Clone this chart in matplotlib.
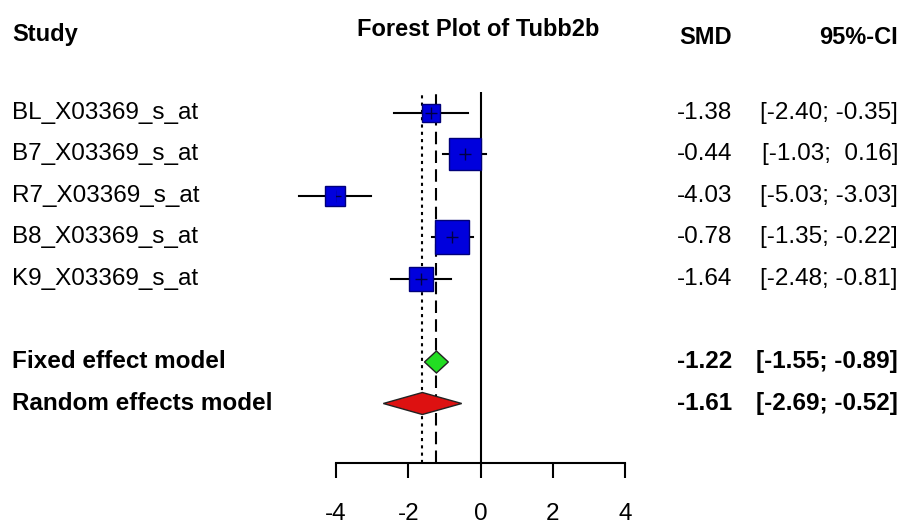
import numpy as np
import matplotlib.pyplot as plt
import matplotlib.transforms as mtransforms

plt.rcParams['font.family'] = ['Liberation Sans', 'DejaVu Sans']

# study data
studies = ["BL_X03369_s_at", "B7_X03369_s_at", "R7_X03369_s_at",
           "B8_X03369_s_at", "K9_X03369_s_at"]
smd = [-1.38, -0.44, -4.03, -0.78, -1.64]
ci_lo = [-2.40, -1.03, -5.03, -1.35, -2.48]
ci_hi = [-0.35, 0.16, -3.03, -0.22, -0.81]

# pooled estimates
models = ["Fixed effect model", "Random effects model"]
pooled = [-1.22, -1.61]
pooled_lo = [-1.55, -2.69]
pooled_hi = [-0.89, -0.52]
pooled_colors = ["#22dd22", "#dd1111"]

xticks = [-4, -2, 0, 2, 4]
title = "Forest Plot of Tubb2b"

W, H = 909, 525
FS = 17.5
fig = plt.figure(figsize=(W / 100, H / 100), dpi=100)

# forest plot panel
ax = fig.add_axes([336 / W, 1 - 463 / H, 289 / W, (463 - 92) / H])
ax.set_xlim(-4, 4)
ax.set_ylim(1 + 350 / 41.5, 1 - 21 / 41.5)
for s in ["top", "left", "right"]:
    ax.spines[s].set_visible(False)
ax.spines["bottom"].set_linewidth(1.5)
ax.set_yticks([])
ax.set_xticks(xticks)
ax.set_xticklabels([str(t) for t in xticks], fontsize=FS)
ax.tick_params(axis="x", length=10.8, width=1.5, pad=18)
ax.patch.set_alpha(0)

rows = np.arange(1, len(studies) + 1)
model_rows = [len(studies) + 2, len(studies) + 3]

# reference lines
ax.axvline(0, color="black", lw=1.5)
ax.axvline(pooled[0], color="black", lw=1.5, ls=(0, (6, 3)))
ax.axvline(pooled[1], color="black", lw=1.5, ls=(0, (1.5, 2)))

# weights from CI widths -> square size
se = (np.array(ci_hi) - np.array(ci_lo)) / 3.92
w = 1 / se ** 2
side_px = 34 * np.sqrt(w / w.max())

for r, m, lo, hi, sp in zip(rows, smd, ci_lo, ci_hi, side_px):
    ax.plot([lo, hi], [r, r], color="black", lw=1.5, clip_on=False, zorder=2)
    ax.plot(m, r, marker="s", ms=sp * 0.72, color="#0000dd",
            mec="#00007a", mew=1, clip_on=False, zorder=3)
    ax.plot(m, r, marker="+", ms=8, color="#000044", mew=1, zorder=4)

h = 0.265
for r, m, lo, hi, c in zip(model_rows, pooled, pooled_lo, pooled_hi, pooled_colors):
    ax.fill([lo, m, hi, m], [r, r - h, r, r + h], facecolor=c,
            edgecolor="#222222", lw=1, zorder=3, clip_on=False)

# text columns: x in figure fraction, y in row units
tr = mtransforms.blended_transform_factory(fig.transFigure, ax.transData)
x_study = 12 / W
x_smd = 732 / W
x_ci = 898 / W


def fmt_ci(lo, hi):
    a = f"{lo:.2f}" if lo < 0 else f" {lo:.2f}"
    b = f"{hi:.2f}" if hi < 0 else f" {hi:.2f}"
    return f"[{a}; {b}]"


for r, name, m, lo, hi in zip(rows, studies, smd, ci_lo, ci_hi):
    ax.text(x_study, r, name, transform=tr, ha="left", va="center", fontsize=FS)
    ax.text(x_smd, r, f"{m:.2f}", transform=tr, ha="right", va="center", fontsize=FS)
    ax.text(x_ci, r, fmt_ci(lo, hi), transform=tr, ha="right", va="center", fontsize=FS)

for r, name, m, lo, hi in zip(model_rows, models, pooled, pooled_lo, pooled_hi):
    ax.text(x_study, r, name, transform=tr, ha="left", va="center",
            fontsize=FS, fontweight="bold")
    ax.text(x_smd, r, f"{m:.2f}", transform=tr, ha="right", va="center",
            fontsize=FS, fontweight="bold")
    ax.text(x_ci, r, fmt_ci(lo, hi), transform=tr, ha="right", va="center",
            fontsize=FS, fontweight="bold")

# header
hdr = dict(fontsize=17, fontweight="bold", va="center")
fig.text(x_study, 1 - 35 / H, "Study", ha="left", **hdr)
fig.text(478 / W, 1 - 30 / H, title, ha="center", **hdr)
fig.text(x_smd, 1 - 37 / H, "SMD", ha="right", **hdr)
fig.text(x_ci, 1 - 37 / H, "95%-CI", ha="right", **hdr)

fig.savefig("out.png", dpi=100, facecolor="white")
